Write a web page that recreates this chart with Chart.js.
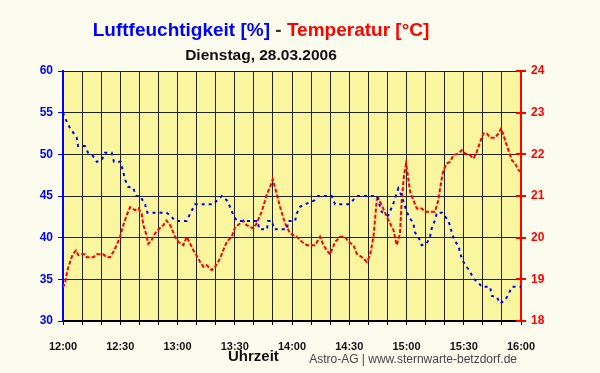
<!DOCTYPE html>
<html lang="de">
<head>
    <meta charset="UTF-8">
    <title>Luftfeuchtigkeit - Temperatur</title>
    <script src="https://cdn.jsdelivr.net/npm/chart.js@4.4.0/dist/chart.umd.min.js"></script>
    <style>
        body { margin: 0; background: #fbfced; font-family: "Liberation Sans", Arial, sans-serif; }
        #wrap { position: relative; width: 600px; height: 373px; }
        .txt { position: absolute; white-space: nowrap; font-weight: bold; }
    </style>
</head>
<body>
    <div id="wrap">
        <canvas id="chart" width="600" height="373"></canvas>
        <div class="txt" style="left:0;width:522px;text-align:center;top:19px;font-size:19px;">
            <span style="color:#0000ff">Luftfeuchtigkeit [%]</span>
            <span style="color:#333">-</span>
            <span style="color:#ff0000">Temperatur [°C]</span>
        </div>
        <div class="txt" style="left:0;width:522px;text-align:center;top:46px;font-size:15.5px;color:#111;">Dienstag, 28.03.2006</div>
        <div class="txt" style="left:228px;top:347px;font-size:15px;color:#111;">Uhrzeit</div>
        <div class="txt" style="right:83px;top:352px;font-size:12px;font-weight:normal;color:#444;">Astro-AG | www.sternwarte-betzdorf.de</div>
    </div>

    <script>
        // minutes after 12:00
        const humTimes = [0, 1.6, 3.3, 5.1, 7.2, 7.9, 11.5, 13.1, 15.7, 17.7, 20.3, 22, 25.5, 26.7, 30.2, 31.3, 32.5, 34.1,
            36.7, 38.3, 40.4, 43, 44.2, 54.3, 57, 58.7, 64.8, 66.9, 69.2, 78.6, 83.2, 85.8, 87.9, 89.6, 91.4, 102, 102.8,
            106.9, 107.4, 109.6, 110.5, 117.4, 118, 121.6, 122.5, 124.2, 126.8, 132, 133.6, 140.8, 142.6, 149.4, 152, 153.9,
            164.4, 167, 170.5, 173.1, 175.7, 177.5, 180.1, 181.9, 183.6, 184.5, 186.2, 188, 190.6, 192.3, 193.2, 194.9,
            195.9, 198.5, 201.1, 202.8, 203.7, 205.5, 207.2, 208.1, 209.8, 211.6, 213.3, 215.1, 217.7, 219.4, 223.8, 224.7,
            227.3, 229, 231.7, 233.4, 235.2, 240];
        const humValues = [55, 54.1, 53.3, 52.7, 52, 51, 51, 50.2, 49.8, 49.1, 49.3, 50.2, 50.2, 49.1, 49.1, 48.1, 47, 46.1,
            46, 45, 45, 44, 43, 43, 42.5, 42, 42, 43, 44, 44, 45, 44.5, 43.5, 42.5, 42, 42, 41,
            41, 42, 42, 41, 41, 42, 42, 42.9, 43.7, 44, 44.5, 45, 45, 44, 44, 44.5, 45,
            45, 43.1, 42.7, 44.1, 45.9, 45, 43.1, 42.3, 41.7, 40.6, 40.1, 39.1, 39.3, 40.1, 41.1, 42.1,
            43, 43, 42.3, 41.5, 40.6, 39.5, 39.1, 38.1, 37.1, 36.5, 35.9, 35.1, 34.6, 34.1, 34.1, 33,
            32.9, 32.1, 32.5, 33.2, 34.1, 34.1];

        const tempTimes = [0, 1.2, 2.3, 3.7, 5.1, 6.8, 8, 9.7, 11.5, 12.4, 15.9, 17.7, 21.1, 22.9, 24.6, 26.4, 28.1, 29.9,
            31.6, 33.4, 35.1, 37.7, 39.5, 41.2, 42.1, 43.5, 44.7, 46.4, 48.2, 50.5, 52.6, 54.3, 56.4, 58.7, 60.4, 63.1,
            64.8, 66.6, 68.3, 70.4, 71.8, 73.6, 75.3, 77.9, 79.7, 82.3, 84, 85.8, 88.4, 90.1, 92.7, 94.5, 96.2, 99.7,
            101.4, 104.1, 106.7, 108.5, 109.9, 112, 113.7, 116.4, 119, 122.5, 125.2, 127.8, 132.1, 134.7, 136.5, 138.2,
            139.9, 142.6, 145.2, 147.8, 149.6, 152.2, 153.9, 156.6, 159.2, 160.9, 162.7, 164.4, 165.3, 167, 169.7, 173.2,
            174.9, 176.6, 177.5, 178.7, 179.8, 181, 181.9, 183.6, 185.4, 188, 189.7, 194.9, 196.7, 197.6, 198.5, 199.3,
            201.1, 202.8, 204.6, 207.2, 209, 210.7, 213.3, 215.1, 216.8, 218.6, 220.3, 222.1, 223.8, 226.4, 228.2, 229.6,
            230.8, 232.2, 233.4, 235.2, 236.9, 238.7, 240];
        const tempValues = [18.8, 18.94, 19.22, 19.42, 19.6, 19.69, 19.58, 19.6, 19.6, 19.53, 19.53, 19.6, 19.6, 19.53, 19.53, 19.66, 19.82, 20.02,
            20.3, 20.54, 20.73, 20.66, 20.7, 20.58, 20.3, 20.1, 19.85, 19.94, 20.1, 20.22, 20.3, 20.41, 20.28, 20.02, 19.9, 19.82,
            20.02, 19.86, 19.7, 19.54, 19.42, 19.3, 19.34, 19.22, 19.3, 19.5, 19.7, 19.9, 20.02, 20.24, 20.34, 20.41, 20.3, 20.22,
            20.34, 20.62, 21.02, 21.22, 21.4, 21.06, 20.74, 20.34, 20.1, 20.02, 19.9, 19.82, 19.82, 20.02, 19.82, 19.7,
            19.6, 19.9, 20.02, 20.02, 19.9, 19.82, 19.62, 19.53, 19.42, 19.58, 20.02, 20.9, 20.94, 20.78, 20.5, 20.18,
            19.82, 20.1, 20.9, 21.5, 21.78, 21.4, 21.1, 20.9, 20.7, 20.7, 20.62, 20.62, 20.9, 21.18, 21.42, 21.62,
            21.78, 21.82, 21.98, 22.02, 22.1, 22.02, 21.98, 21.9, 22.06, 22.3, 22.5, 22.5, 22.4, 22.4, 22.5, 22.62,
            22.46, 22.26, 22.1, 21.86, 21.78, 21.62, 21.58];

        const timeLabels = ['12:00', '12:30', '13:00', '13:30', '14:00', '14:30', '15:00', '15:30', '16:00'];

        const toPoints = (xs, ys) => xs.map((x, i) => ({ x: x, y: ys[i] }));

        // yellow plot background
        const plotBg = {
            id: 'plotBg',
            beforeDraw(chart) {
                const a = chart.chartArea, ctx = chart.ctx;
                ctx.save();
                ctx.fillStyle = '#faf6a0';
                ctx.fillRect(a.left, a.top, a.right - a.left, a.bottom - a.top);
                ctx.restore();
            }
        };

        // red tick marks also reach a little into the plot on the right axis
        const innerTicks = {
            id: 'innerTicks',
            afterDraw(chart) {
                const s = chart.scales.yTemp, ctx = chart.ctx;
                ctx.save();
                ctx.strokeStyle = '#ff0000';
                ctx.lineWidth = 2;
                s.ticks.forEach(t => {
                    const y = Math.round(s.getPixelForValue(t.value));
                    ctx.beginPath();
                    ctx.moveTo(s.left - 5, y);
                    ctx.lineTo(s.left, y);
                    ctx.stroke();
                });
                ctx.restore();
            }
        };

        const boldFont = { family: '"Liberation Sans", Arial, sans-serif', size: 12, weight: 'bold' };

        new Chart(document.getElementById('chart'), {
            type: 'line',
            data: {
                datasets: [{
                    label: 'Luftfeuchtigkeit',
                    data: toPoints(humTimes, humValues),
                    yAxisID: 'yHum',
                    borderColor: '#0000ff',
                    borderWidth: 2,
                    borderDash: [3, 4],
                    pointRadius: 0,
                    tension: 0
                }, {
                    label: 'Temperatur',
                    data: toPoints(tempTimes, tempValues),
                    yAxisID: 'yTemp',
                    borderColor: '#ff0000',
                    borderWidth: 2,
                    borderDash: [4, 2],
                    pointRadius: 0,
                    tension: 0
                }]
            },
            options: {
                responsive: false,
                animation: false,
                layout: { padding: { top: 71, left: 0, right: 0, bottom: 0 } },
                plugins: { legend: { display: false }, tooltip: { enabled: false } },
                scales: {
                    x: {
                        type: 'linear',
                        min: 0,
                        max: 240,
                        afterFit(scale) { scale.height = 52; },
                        border: { color: '#000', width: 2 },
                        grid: { color: '#222', lineWidth: 1, tickLength: 4, tickColor: '#000' },
                        ticks: {
                            stepSize: 10,
                            autoSkip: false,
                            maxRotation: 0,
                            padding: 15,
                            color: '#111',
                            font: { family: boldFont.family, size: 11, weight: 'bold' },
                            callback: v => (v % 30 === 0 ? timeLabels[v / 30] : '')
                        }
                    },
                    yHum: {
                        position: 'left',
                        min: 30,
                        max: 60,
                        afterFit(scale) { scale.width = 63; },
                        border: { color: '#0000ff', width: 2 },
                        grid: { color: '#222', lineWidth: 1, tickLength: 5, tickColor: '#0000ff' },
                        ticks: { stepSize: 5, padding: 5, color: '#0000ff', font: boldFont }
                    },
                    yTemp: {
                        position: 'right',
                        min: 18,
                        max: 24,
                        afterFit(scale) { scale.width = 79; },
                        border: { color: '#ff0000', width: 2 },
                        grid: { drawOnChartArea: false, tickLength: 5, tickColor: '#ff0000', lineWidth: 2 },
                        ticks: { stepSize: 1, padding: 5, color: '#ff0000', font: boldFont }
                    }
                }
            },
            plugins: [plotBg, innerTicks]
        });
    </script>
</body>
</html>
